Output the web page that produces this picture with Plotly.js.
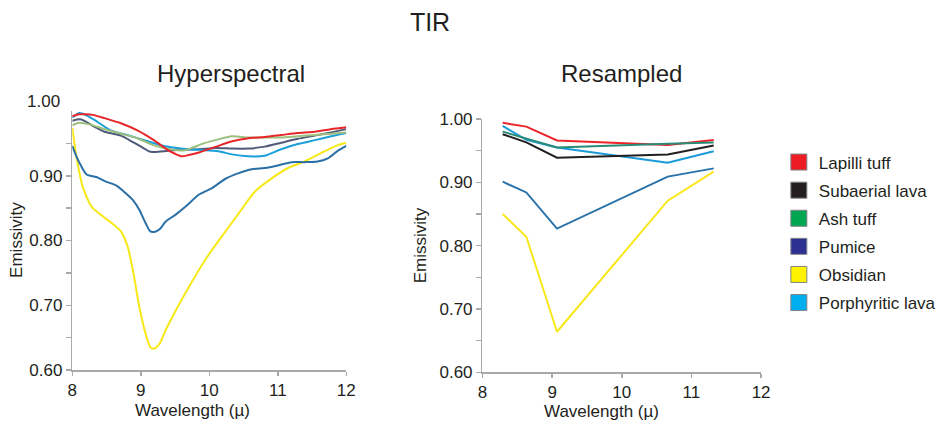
<!DOCTYPE html>
<html>
<head>
<meta charset="utf-8">
<script src="https://cdn.plot.ly/plotly-3.0.1.min.js"></script>
<style>html,body{margin:0;padding:0;background:#fff}#chart{width:941px;height:425px}</style>
</head>
<body>
<div id="chart"></div>
<script>
// ---------- Data ----------
const seriesNames = ["Lapilli tuff", "Subaerial lava", "Ash tuff", "Pumice", "Obsidian", "Porphyritic lava"];

// Hyperspectral (left panel)
const lapilliWl = [8.0, 8.1, 8.2, 8.3, 8.47, 8.71, 8.95, 9.19, 9.39, 9.5, 9.6, 9.7, 9.85, 10.1, 10.32, 10.57, 10.81, 11.05, 11.29, 11.54, 11.77, 12.0];
const lapilliEm = [0.992, 0.995, 0.995, 0.994, 0.989, 0.981, 0.970, 0.955, 0.940, 0.934, 0.930, 0.932, 0.936, 0.945, 0.953, 0.958, 0.960, 0.963, 0.966, 0.968, 0.972, 0.975];

const subaerialWl = [8.0, 8.13, 8.32, 8.47, 8.71, 8.9, 9.05, 9.14, 9.34, 9.58, 9.85, 10.09, 10.33, 10.57, 10.81, 11.05, 11.29, 11.54, 11.78, 12.0];
const subaerialEm = [0.985, 0.987, 0.976, 0.968, 0.962, 0.951, 0.942, 0.937, 0.938, 0.940, 0.941, 0.943, 0.942, 0.942, 0.945, 0.951, 0.957, 0.962, 0.967, 0.972];

const ashWl = [8.0, 8.1, 8.27, 8.47, 8.71, 8.95, 9.19, 9.43, 9.63, 9.77, 9.92, 10.09, 10.33, 10.57, 10.81, 11.05, 11.29, 11.54, 11.78, 12.0];
const ashEm = [0.978, 0.982, 0.979, 0.972, 0.965, 0.958, 0.947, 0.941, 0.939, 0.944, 0.950, 0.955, 0.961, 0.959, 0.959, 0.959, 0.961, 0.963, 0.965, 0.967];

const pumiceWl = [8.0, 8.06, 8.13, 8.21, 8.35, 8.49, 8.64, 8.78, 8.88, 8.98, 9.07, 9.14, 9.22, 9.29, 9.36, 9.51, 9.65, 9.85, 10.04, 10.23, 10.43, 10.62, 10.81, 11.0, 11.2, 11.39, 11.58, 11.73, 11.87, 12.0];
const pumiceEm = [0.946, 0.930, 0.915, 0.902, 0.898, 0.891, 0.885, 0.873, 0.863, 0.847, 0.827, 0.814, 0.814, 0.819, 0.829, 0.840, 0.852, 0.871, 0.881, 0.895, 0.904, 0.910, 0.912, 0.916, 0.921, 0.921, 0.922, 0.927, 0.938, 0.946];

const obsidianWl = [8.0, 8.06, 8.15, 8.25, 8.3, 8.45, 8.61, 8.71, 8.81, 8.9, 8.98, 9.07, 9.14, 9.19, 9.27, 9.36, 9.51, 9.70, 9.94, 10.18, 10.43, 10.67, 10.91, 11.15, 11.39, 11.63, 11.87, 12.0];
const obsidianEm = [0.974, 0.930, 0.884, 0.858, 0.850, 0.837, 0.824, 0.814, 0.790, 0.745, 0.697, 0.656, 0.635, 0.633, 0.640, 0.661, 0.692, 0.728, 0.770, 0.806, 0.842, 0.876, 0.896, 0.912, 0.922, 0.935, 0.947, 0.951];

const porphyriticWl = [8.0, 8.1, 8.15, 8.23, 8.37, 8.56, 8.8, 9.05, 9.34, 9.58, 9.85, 10.13, 10.33, 10.57, 10.81, 11.05, 11.29, 11.54, 11.78, 12.0];
const porphyriticEm = [0.990, 0.997, 0.996, 0.992, 0.983, 0.970, 0.963, 0.955, 0.946, 0.942, 0.940, 0.938, 0.933, 0.930, 0.931, 0.941, 0.949, 0.955, 0.961, 0.966];

// Resampled (right panel)
const bandWl = [8.29, 8.63, 9.07, 10.66, 11.32];
const lapilliRes = [0.994, 0.988, 0.966, 0.959, 0.967];
const subaerialRes = [0.976, 0.963, 0.939, 0.944, 0.958];
const ashRes = [0.980, 0.969, 0.955, 0.961, 0.963];
const pumiceRes = [0.901, 0.884, 0.827, 0.909, 0.922];
const obsidianRes = [0.850, 0.814, 0.664, 0.871, 0.917];
const porphyriticRes = [0.989, 0.967, 0.955, 0.931, 0.949];

// Tick labels
const xTicks = [8, 9, 10, 11, 12];
const yTicks = [0.6, 0.7, 0.8, 0.9, 1.0];
const yTickText = ["0.60", "0.70", "0.80", "0.90", "1.00"];

// ---------- Styles ----------
const legendColors = ["#ed1c24", "#231f20", "#00a651", "#2e3192", "#fff200", "#00aeef"];
const hyperColors = {lapilli: "#e8262a", subaerial: "#4f5a78", ash: "#9dbf7e", pumice: "#2a70a6", obsidian: "#f7e816", porphyritic: "#1a9fda"};
const resColors = {lapilli: "#ec2329", subaerial: "#231f20", ash: "#2a8c78", pumice: "#2a72aa", obsidian: "#f8e71a", porphyritic: "#1a9ad8"};

const FONT = "Liberation Sans, Arial, sans-serif";
const TXT = "#231f20";
const AX = "#a7a9ac";

function line(x, y, color, xa, ya, smooth) {
  const l = {color: color, width: 2};
  if (smooth) { l.shape = "spline"; l.smoothing = 0.7; }
  return {x: x, y: y, type: "scatter", mode: "lines", line: l, xaxis: xa, yaxis: ya, showlegend: false, hoverinfo: "skip"};
}

const traces = [
  line(obsidianWl, obsidianEm, hyperColors.obsidian, "x", "y", true),
  line(pumiceWl, pumiceEm, hyperColors.pumice, "x", "y", true),
  line(subaerialWl, subaerialEm, hyperColors.subaerial, "x", "y", true),
  line(porphyriticWl, porphyriticEm, hyperColors.porphyritic, "x", "y", true),
  line(ashWl, ashEm, hyperColors.ash, "x", "y", true),
  line(lapilliWl, lapilliEm, hyperColors.lapilli, "x", "y", true),

  line(bandWl, obsidianRes, resColors.obsidian, "x2", "y2", false),
  line(bandWl, pumiceRes, resColors.pumice, "x2", "y2", false),
  line(bandWl, porphyriticRes, resColors.porphyritic, "x2", "y2", false),
  line(bandWl, subaerialRes, resColors.subaerial, "x2", "y2", false),
  line(bandWl, lapilliRes, resColors.lapilli, "x2", "y2", false),
  line(bandWl, ashRes, resColors.ash, "x2", "y2", false)
];

seriesNames.forEach(function (n, i) {
  traces.push({
    x: [null], y: [null], type: "scatter", mode: "markers", name: n, legendgroup: "g" + i,
    marker: {symbol: "square", size: 16, color: legendColors[i], line: {color: "#808285", width: 1}},
    xaxis: "x2", yaxis: "y2", showlegend: true, hoverinfo: "skip"
  });
});

function xAxis(domain, anchor) {
  return {
    domain: domain, anchor: anchor, range: [8, 12], tickvals: xTicks, ticktext: xTicks.map(String),
    showgrid: false, zeroline: false, showline: true, linecolor: AX, linewidth: 1.5,
    ticks: "outside", ticklen: 4, tickcolor: AX, tickwidth: 1.5,
    tickfont: {family: FONT, size: 17, color: TXT}, fixedrange: true
  };
}
function yAxis(domain, anchor, vals, text) {
  return {
    domain: domain, anchor: anchor, range: [0.6, 1.0], tickvals: vals, ticktext: text,
    showgrid: false, zeroline: false, showline: true, linecolor: AX, linewidth: 1.5,
    ticks: "outside", ticklen: 5, tickcolor: AX, tickwidth: 1.5,
    minor: {tickvals: [0.65, 0.75, 0.85, 0.95], ticks: "outside", ticklen: 5, tickcolor: AX, tickwidth: 1.5, showgrid: false},
    tickfont: {family: FONT, size: 17, color: TXT}, fixedrange: true
  };
}

const layout = {
  width: 941, height: 425,
  margin: {l: 0, r: 0, t: 0, b: 0},
  paper_bgcolor: "#ffffff", plot_bgcolor: "rgba(0,0,0,0)",
  font: {family: FONT, color: TXT},
  title: {text: "TIR", font: {family: FONT, size: 25, color: TXT}, x: 0.457, xanchor: "center", y: 0.948, yanchor: "middle"},
  xaxis: xAxis([0.0773, 0.3704], "y"),
  yaxis: yAxis([0.1294, 0.7388], "x", yTicks.slice(0, 4), yTickText.slice(0, 4)),
  xaxis2: xAxis([0.516, 0.814], "y2"),
  yaxis2: yAxis([0.124, 0.72], "x2", yTicks, yTickText),
  showlegend: true,
  legend: {
    x: 0.833, y: 0.66, xanchor: "left", yanchor: "top",
    font: {family: FONT, size: 17, color: TXT}, bgcolor: "rgba(0,0,0,0)",
    itemwidth: 30, tracegroupgap: 3, traceorder: "grouped"
  },
  annotations: [
    {text: "Hyperspectral", xref: "paper", yref: "paper", x: 232 / 941, y: 1 - 73 / 425, xanchor: "center", yanchor: "middle", showarrow: false, font: {family: FONT, size: 24, color: TXT}},
    {text: "Resampled", xref: "paper", yref: "paper", x: 625 / 941, y: 1 - 73 / 425, xanchor: "center", yanchor: "middle", showarrow: false, font: {family: FONT, size: 24, color: TXT}},
    {text: "1.00", xref: "paper", yref: "paper", x: 62 / 941, y: 1 - 101 / 425, xanchor: "right", yanchor: "middle", showarrow: false, font: {family: FONT, size: 17, color: TXT}},
    {text: "Emissivity", xref: "paper", yref: "paper", x: 16 / 941, y: 1 - 240 / 425, xanchor: "center", yanchor: "middle", textangle: -90, showarrow: false, font: {family: FONT, size: 17, color: TXT}},
    {text: "Emissivity", xref: "paper", yref: "paper", x: 424 / 941, y: 1 - 245 / 425, xanchor: "center", yanchor: "middle", textangle: -90, showarrow: false, font: {family: FONT, size: 17, color: TXT}},
    {text: "Wavelength (µ)", xref: "paper", yref: "paper", x: 194 / 941, y: 1 - 410 / 425, xanchor: "center", yanchor: "middle", showarrow: false, font: {family: FONT, size: 17, color: TXT}},
    {text: "Wavelength (µ)", xref: "paper", yref: "paper", x: 605 / 941, y: 1 - 411 / 425, xanchor: "center", yanchor: "middle", showarrow: false, font: {family: FONT, size: 17, color: TXT}}
  ]
};

Plotly.newPlot("chart", traces, layout, {staticPlot: true, displayModeBar: false});
</script>
</body>
</html>
